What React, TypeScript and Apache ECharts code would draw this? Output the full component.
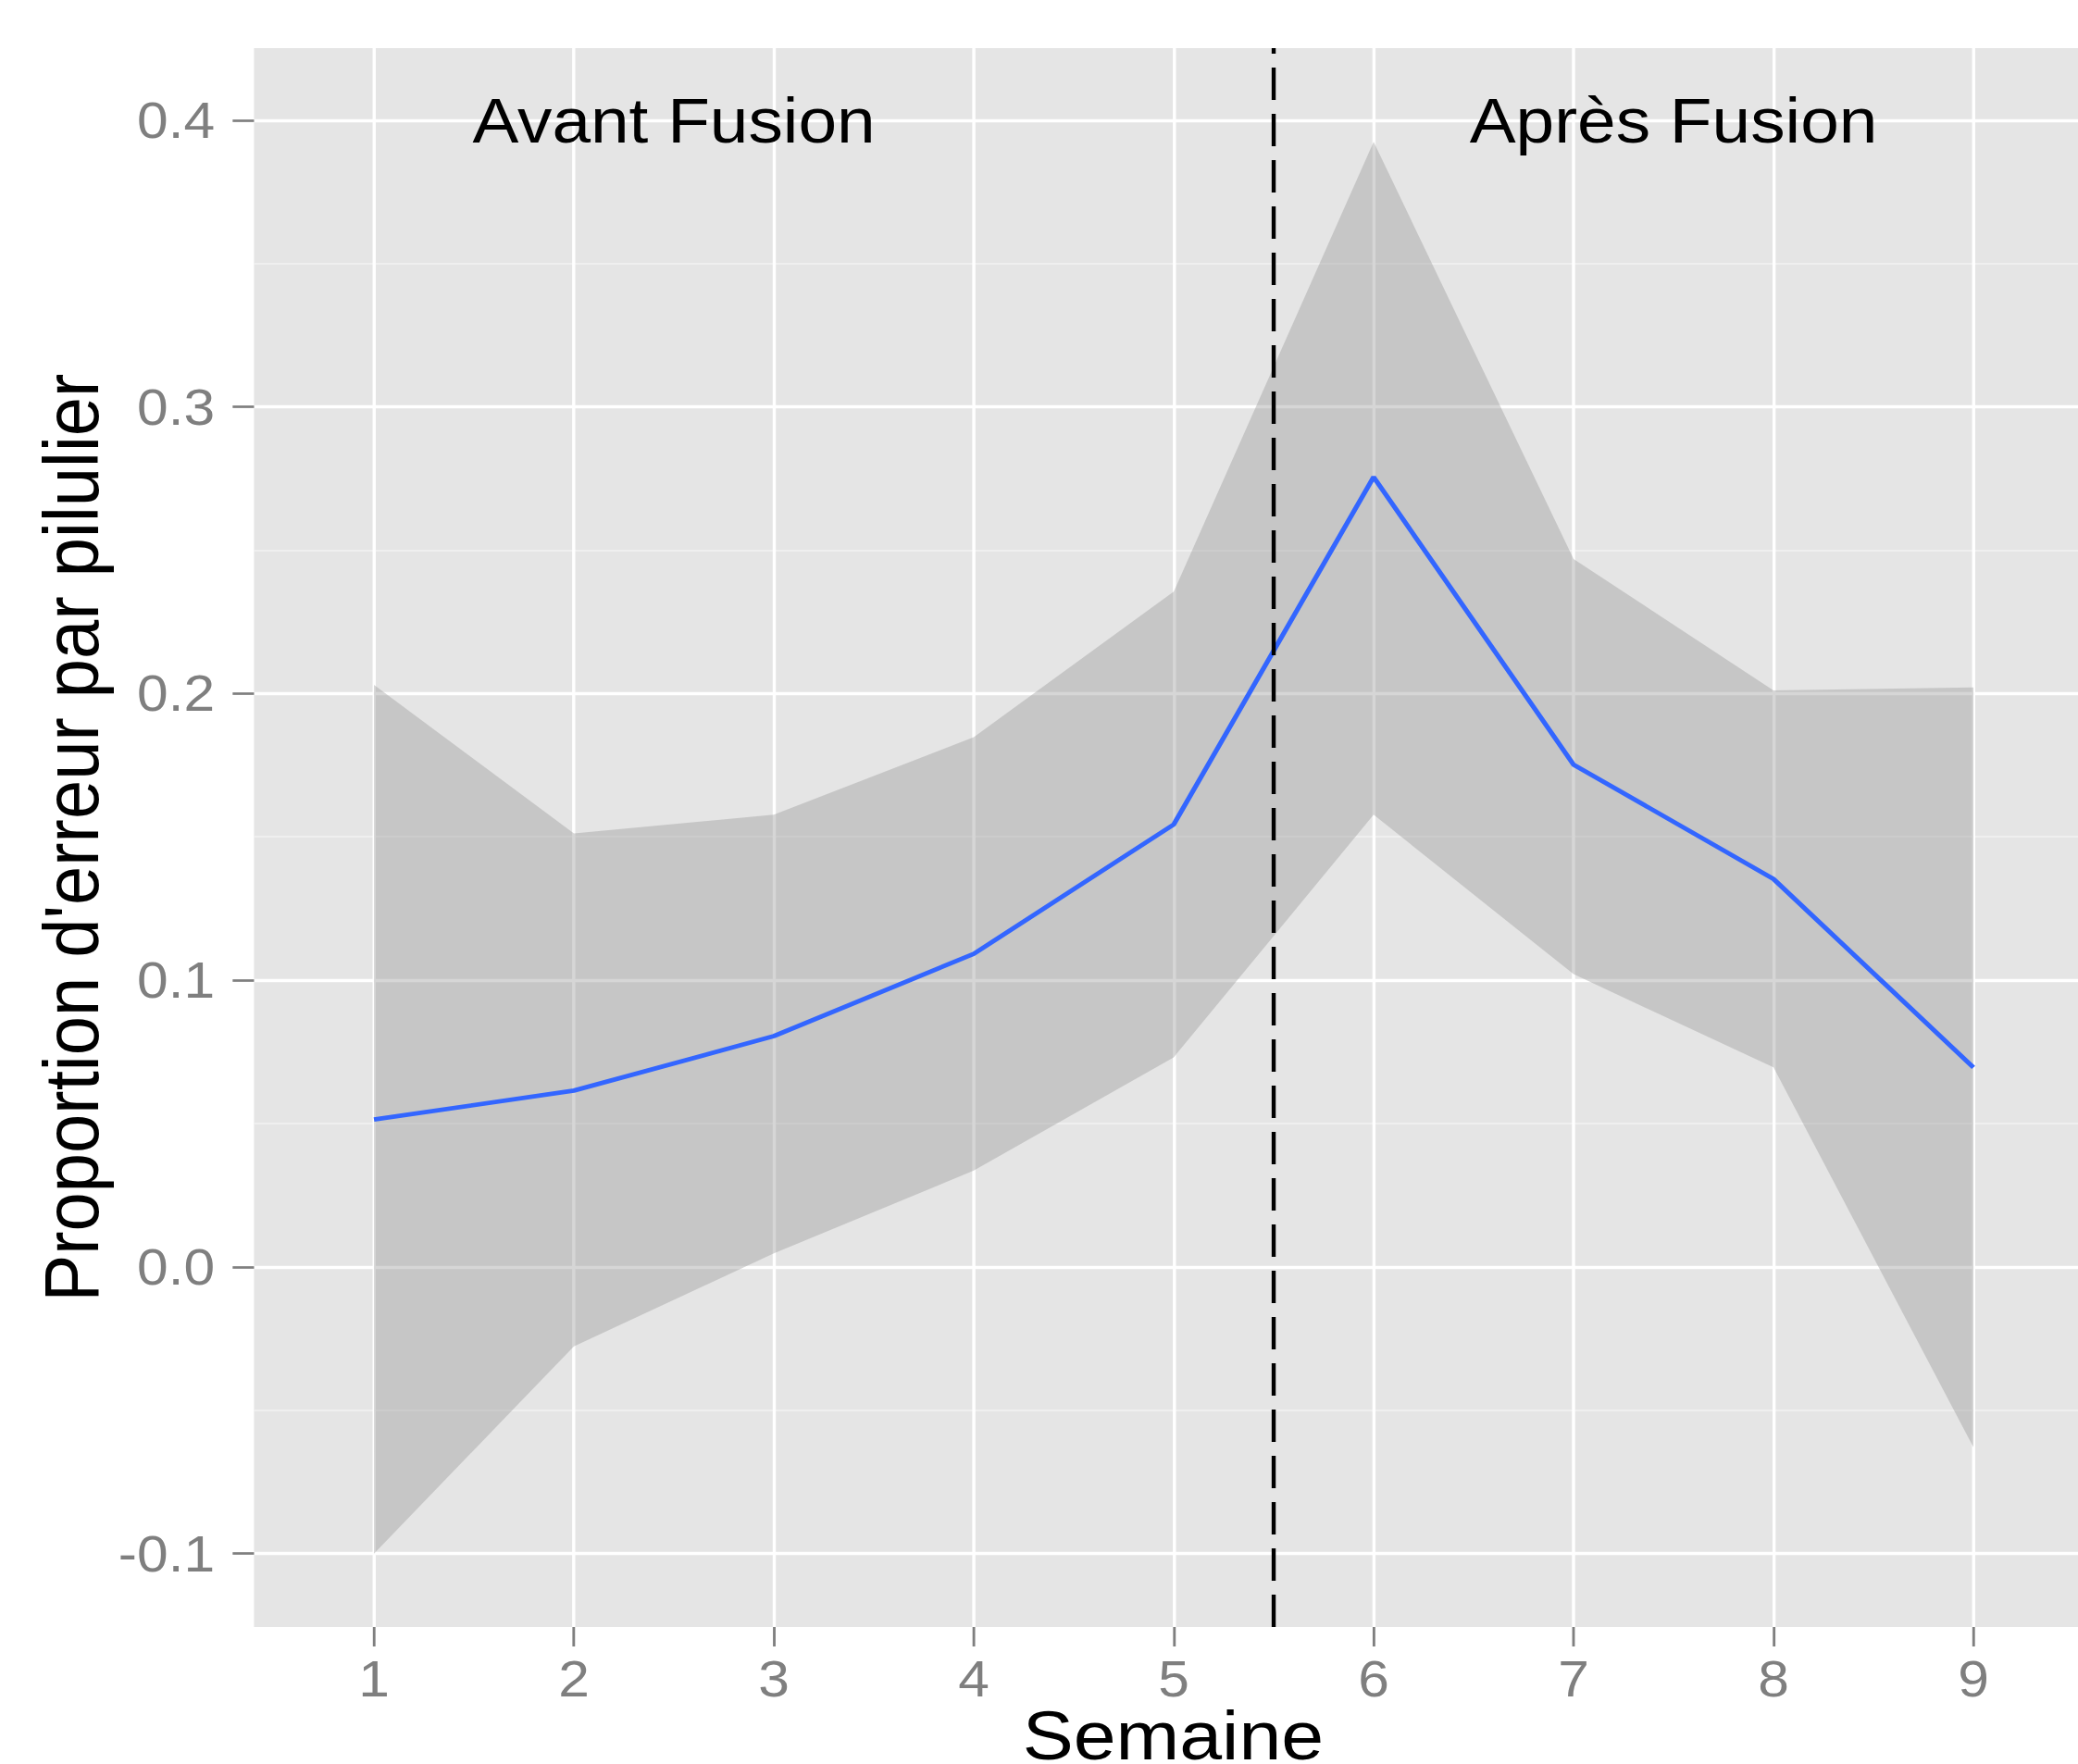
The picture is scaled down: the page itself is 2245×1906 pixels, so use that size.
import React, { useEffect, useRef } from "react";
import * as echarts from "echarts";

// ---- data ----
const WEEKS = [1, 2, 3, 4, 5, 6, 7, 8, 9];
const FIT = [0.0514, 0.0615, 0.0805, 0.1092, 0.1543, 0.2755, 0.1752, 0.1353, 0.0696];
const UPPER = [0.203, 0.1512, 0.1577, 0.1848, 0.2355, 0.3924, 0.2469, 0.2011, 0.2021];
const LOWER = [-0.1, -0.0277, 0.0047, 0.0336, 0.0731, 0.1577, 0.1021, 0.0696, -0.0629];
const Y_MAJOR = [-0.1, 0, 0.1, 0.2, 0.3, 0.4];
const Y_MINOR = [-0.05, 0.05, 0.15, 0.25, 0.35];
const FUSION_WEEK = 5.5;
const ANNOT_TEXT = ["Avant Fusion", "Après Fusion"];
const ANNOT_X = [2.5, 7.5];
const ANNOT_Y = [0.4, 0.4];
const X_RANGE = [0.4, 9.523];
const Y_RANGE = [-0.1256, 0.4251];

const FONT = "'Liberation Sans', Arial, Helvetica, sans-serif";
const STRETCH = 1.1;
const W = Math.round(2245 / STRETCH);
const H = 1906;

const option = {
  animation: false,
  backgroundColor: "#ffffff",
  textStyle: { fontFamily: FONT },
  grid: {
    show: true,
    backgroundColor: "#E5E5E5",
    borderWidth: 0,
    left: 249.5,
    top: 52,
    right: 0,
    height: 1706,
    containLabel: false,
    outerBoundsMode: "none",
  },
  xAxis: {
    type: "value",
    min: X_RANGE[0],
    max: X_RANGE[1],
    name: "Semaine",
    nameLocation: "middle",
    nameGap: 87,
    nameMoveOverlap: false,
    nameTextStyle: {
      color: "#000",
      fontSize: 75,
      lineHeight: 60,
      fontFamily: FONT,
      padding: [0, 0, 0, 14],
      verticalAlign: "top",
    },
    axisLine: { show: false, onZero: false },
    axisTick: {
      show: true,
      customValues: WEEKS,
      length: 21,
      lineStyle: { color: "#7F7F7F", width: 2.6 },
    },
    axisLabel: {
      customValues: WEEKS,
      color: "#7F7F7F",
      fontSize: 55,
      fontFamily: FONT,
      margin: 28,
      formatter: (v: number) => String(v),
    },
    splitLine: { show: true, lineStyle: { color: "#ffffff", width: 3.1 } },
  },
  yAxis: [
    {
      type: "value",
      min: Y_RANGE[0],
      max: Y_RANGE[1],
      name: "Proportion d'erreur par pilulier",
      nameLocation: "middle",
      nameGap: 141.5,
      nameRotate: 90,
      nameMoveOverlap: false,
      nameTextStyle: { color: "#000", fontSize: 76, fontFamily: FONT },
      axisLine: { show: false, onZero: false },
      axisTick: {
        show: true,
        customValues: Y_MAJOR,
        length: 21,
        lineStyle: { color: "#7F7F7F", width: 2.7 },
      },
      axisLabel: {
        customValues: Y_MAJOR,
        color: "#7F7F7F",
        fontSize: 55,
        fontFamily: FONT,
        margin: 38.5,
        formatter: (v: number) => v.toFixed(1),
      },
      splitLine: { show: true, lineStyle: { color: "#ffffff", width: 3.3 } },
    },
    {
      type: "value",
      position: "left",
      min: Y_RANGE[0],
      max: Y_RANGE[1],
      axisLine: { show: false, onZero: false },
      axisTick: { show: false, customValues: Y_MINOR },
      axisLabel: { show: false, customValues: Y_MINOR },
      splitLine: { show: true, lineStyle: { color: "#F2F2F2", width: 1.7 } },
    },
  ],
  series: [
    {
      type: "custom",
      name: "ci",
      silent: true,
      z: 2,
      data: WEEKS.map((w, i) => [w, LOWER[i], UPPER[i]]),
      encode: { x: 0, y: [1, 2] },
      renderItem: (params: any, api: any) => {
        if (params.dataIndex !== 0) return null;
        const pts: number[][] = [];
        WEEKS.forEach((w, i) => pts.push(api.coord([w, UPPER[i]])));
        for (let i = WEEKS.length - 1; i >= 0; i--) pts.push(api.coord([WEEKS[i], LOWER[i]]));
        return {
          type: "polygon",
          shape: { points: pts },
          style: { fill: "rgba(153,153,153,0.4)" },
        };
      },
    },
    {
      type: "line",
      name: "fit",
      z: 3,
      silent: true,
      showSymbol: false,
      symbol: "none",
      data: WEEKS.map((w, i) => [w, FIT[i]]),
      lineStyle: { color: "#3366FF", width: 4.8 },
      markLine: {
        silent: true,
        symbol: ["none", "none"],
        label: { show: false },
        lineStyle: { color: "#000000", width: 4, type: [35, 15] },
        data: [{ xAxis: FUSION_WEEK }],
      },
    },
    {
      type: "scatter",
      name: "annot",
      z: 5,
      silent: true,
      symbolSize: 2,
      itemStyle: { color: "rgba(0,0,0,0)" },
      data: ANNOT_X.map((x, i) => [x, ANNOT_Y[i]]),
      label: {
        show: true,
        position: [1, 1],
        align: "center",
        verticalAlign: "middle",
        color: "#000000",
        opacity: 1,
        textBorderWidth: 0,
        fontSize: 68,
        fontFamily: FONT,
        formatter: (p: any) => ANNOT_TEXT[p.dataIndex],
      },
    },
  ],
};

export default function App() {
  const ref = useRef<HTMLDivElement>(null);
  useEffect(() => {
    document.documentElement.style.overflow = "hidden";
    document.body.style.margin = "0";
    document.body.style.overflow = "hidden";
    const chart = echarts.init(ref.current as HTMLDivElement, null, { renderer: "svg" });
    chart.setOption(option as any);
    return () => chart.dispose();
  }, []);
  return (
    <div
      ref={ref}
      style={{
        position: "absolute",
        left: 0,
        top: 0,
        width: W,
        height: H,
        transform: `scaleX(${2245 / W})`,
        transformOrigin: "0 0",
      }}
    />
  );
}
